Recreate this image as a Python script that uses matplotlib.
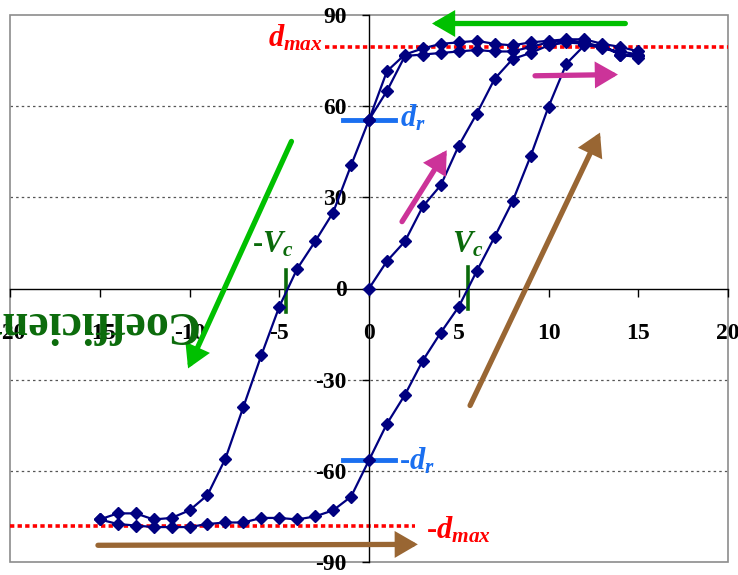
import matplotlib
matplotlib.use("Agg")
import matplotlib.pyplot as plt
from matplotlib.patches import Rectangle

# ---------------- data ----------------
virgin_x = [0, 1, 2, 3, 4, 5, 6, 7, 8, 9, 10, 11, 12, 13, 14, 15]
virgin_y = [0, 9, 15.5, 27, 34, 47, 57.5, 69, 75.5, 77.5, 80, 81, 80.5, 79, 78, 77]

down1_x = [15, 14, 13, 12, 11, 10, 9, 8, 7, 6, 5, 4, 3, 2, 1, 0,
           -1, -2, -3, -4, -5, -6, -7, -8, -9, -10, -11, -12, -13, -14, -15]
down1_y = [76.5, 77, 79.5, 81, 81.5, 81, 79.5, 78, 78, 78.5, 78, 77.5, 77, 76.5, 65, 55.5,
           40.5, 25, 15.5, 6.5, -6, -22, -39, -56, -68, -73, -75.5, -76, -74, -74, -76]

up_x = [-15, -14, -13, -12, -11, -10, -9, -8, -7, -6, -5, -4, -3, -2, -1, 0,
        1, 2, 3, 4, 5, 6, 7, 8, 9, 10, 11, 12, 13, 14, 15]
up_y = [-76, -77.5, -78, -78.5, -78.5, -78.5, -77.5, -77, -77, -75.5, -75.5, -76, -75, -73, -68.5, -56.5,
        -44.5, -35, -23.7, -14.5, -6, 5.7, 17, 28.7, 43.5, 59.8, 74, 80, 80, 77, 76]

down2_x = [15, 14, 13, 12, 11, 10, 9, 8, 7, 6, 5, 4, 3, 2, 1, 0]
down2_y = [78, 79.5, 80.5, 82, 82, 81.5, 81, 80, 80.5, 81.5, 81, 80.5, 79, 77, 71.5, 55.5]

x_ticks = [-20, -15, -10, -5, 0, 5, 10, 15, 20]
y_ticks = [-90, -60, -30, 0, 30, 60, 90]
grid_levels = [-60, -30, 30, 60]

d_max_pos = 79.5
d_max_neg = -78.3
d_r_pos = 55.4
d_r_neg = -56.3
v_c_pos = 5.5
v_c_neg = -4.6

# ---------------- style ----------------
plt.rcParams['font.family'] = ['Liberation Serif', 'DejaVu Serif']
plt.rcParams['mathtext.fontset'] = 'custom'
plt.rcParams['mathtext.it'] = 'Liberation Serif:italic:bold'
plt.rcParams['mathtext.rm'] = 'Liberation Serif:bold'
plt.rcParams['mathtext.bf'] = 'Liberation Serif:bold'

fig = plt.figure(figsize=(7.38, 5.75), dpi=100)
ax = fig.add_axes([10/738, 13/575, 718/738, 547/575])
ax.set_xlim(-20, 20)
ax.set_ylim(-90, 90)

for s in ['top', 'right']:
    ax.spines[s].set_visible(False)
ax.spines['left'].set_position(('data', 0))
ax.spines['bottom'].set_position(('data', 0))
ax.spines['left'].set_linewidth(1.0)
ax.spines['bottom'].set_linewidth(1.0)
ax.add_patch(Rectangle((0, 0), 1, 1, transform=ax.transAxes, fill=False,
                       edgecolor='#8c8c8c', lw=1.2, clip_on=False, zorder=1))

ax.set_xticks(x_ticks)
ax.set_yticks(y_ticks)
ax.set_xticklabels([str(v) for v in x_ticks])
ax.set_yticklabels([str(v) for v in y_ticks])
ax.tick_params(axis='x', direction='out', length=6, width=1, pad=19,
               labelsize=17)
ax.tick_params(axis='y', direction='out', length=5, width=1, pad=11,
               labelsize=17)
for lab in ax.get_xticklabels() + ax.get_yticklabels():
    lab.set_fontweight('bold')

for g in grid_levels:
    ax.axhline(g, color='#555555', lw=0.9, ls=(0, (2, 2.5)), zorder=0.5)

# red d_max lines
ax.plot([-2.45, 20], [d_max_pos, d_max_pos], color='#ff0000', lw=2.6,
        ls=(0, (1.2, 0.9)), zorder=2, clip_on=False)
ax.plot([-20, 2.56], [d_max_neg, d_max_neg], color='#ff0000', lw=2.6,
        ls=(0, (1.2, 0.9)), zorder=2, clip_on=False)

# data curve
xs = virgin_x + down1_x + up_x + down2_x
ys = virgin_y + down1_y + up_y + down2_y
ax.plot(xs, ys, color='#000080', lw=1.6, marker='D', ms=6.5,
        markerfacecolor='#000080', markeredgecolor='#000080', zorder=4)

# d_r markers
blue = '#1a6ff0'
ax.plot([-1.45, 1.45], [d_r_pos, d_r_pos], color=blue, lw=3.5, zorder=3)
ax.plot([-1.45, 1.45], [d_r_neg, d_r_neg], color=blue, lw=3.5, zorder=3)

# V_c markers
dgreen = '#0a6a0a'
ax.plot([v_c_pos, v_c_pos], [7.2, -6.6], color=dgreen, lw=2.6, zorder=3)
ax.plot([v_c_neg, v_c_neg], [6.2, -7.6], color=dgreen, lw=2.6, zorder=3)

# labels
ax.text(-2.6, 82.5, r'$d_{max}$', color='#ff0000', fontsize=22,
        ha='right', va='center', zorder=5)
ax.text(3.15, -79.5, r'-$d_{max}$', color='#ff0000', fontsize=22,
        fontweight='bold', ha='left', va='center', zorder=5)
ax.text(1.75, 56.0, r'$d_r$', color=blue, fontsize=22,
        ha='left', va='center', zorder=5)
ax.text(1.65, -57.0, r'-$d_r$', color=blue, fontsize=22,
        fontweight='bold', ha='left', va='center', zorder=5)
ax.text(4.6, 14.5, r'$V_c$', color=dgreen, fontsize=22,
        ha='left', va='center', zorder=5)
ax.text(-6.5, 14.5, r'-$V_c$', color=dgreen, fontsize=22,
        fontweight='bold', ha='left', va='center', zorder=5)

# arrows
def arrow(x0, y0, x1, y1, color):
    ax.annotate('', xy=(x1, y1), xytext=(x0, y0),
                arrowprops=dict(arrowstyle='-|>,head_length=0.55,head_width=0.32',
                                lw=3.8, color=color, shrinkA=0, shrinkB=0,
                                mutation_scale=20, joinstyle='miter'),
                zorder=6, annotation_clip=False)

green = '#00c000'
pink = '#cc3399'
brown = '#996633'
arrow(14.28, 87.2, 3.51, 87.2, green)
arrow(-4.32, 48.4, -10.08, -26.3, green)
arrow(1.84, 22.0, 4.33, 45.5, pink)
arrow(9.25, 70.0, 13.87, 70.4, pink)
arrow(5.63, -38.5, 12.87, 51.3, brown)
arrow(-15.1, -84.5, 2.72, -84.2, brown)

# upside-down axis title fragment
fig.text(197/738, 1 - 323/575, 'Coefficient', rotation=180, ha='right',
         va='center', color='#0b6b0b', fontsize=33, fontweight='bold',
         zorder=7)

fig.savefig('out.png', dpi=100)
